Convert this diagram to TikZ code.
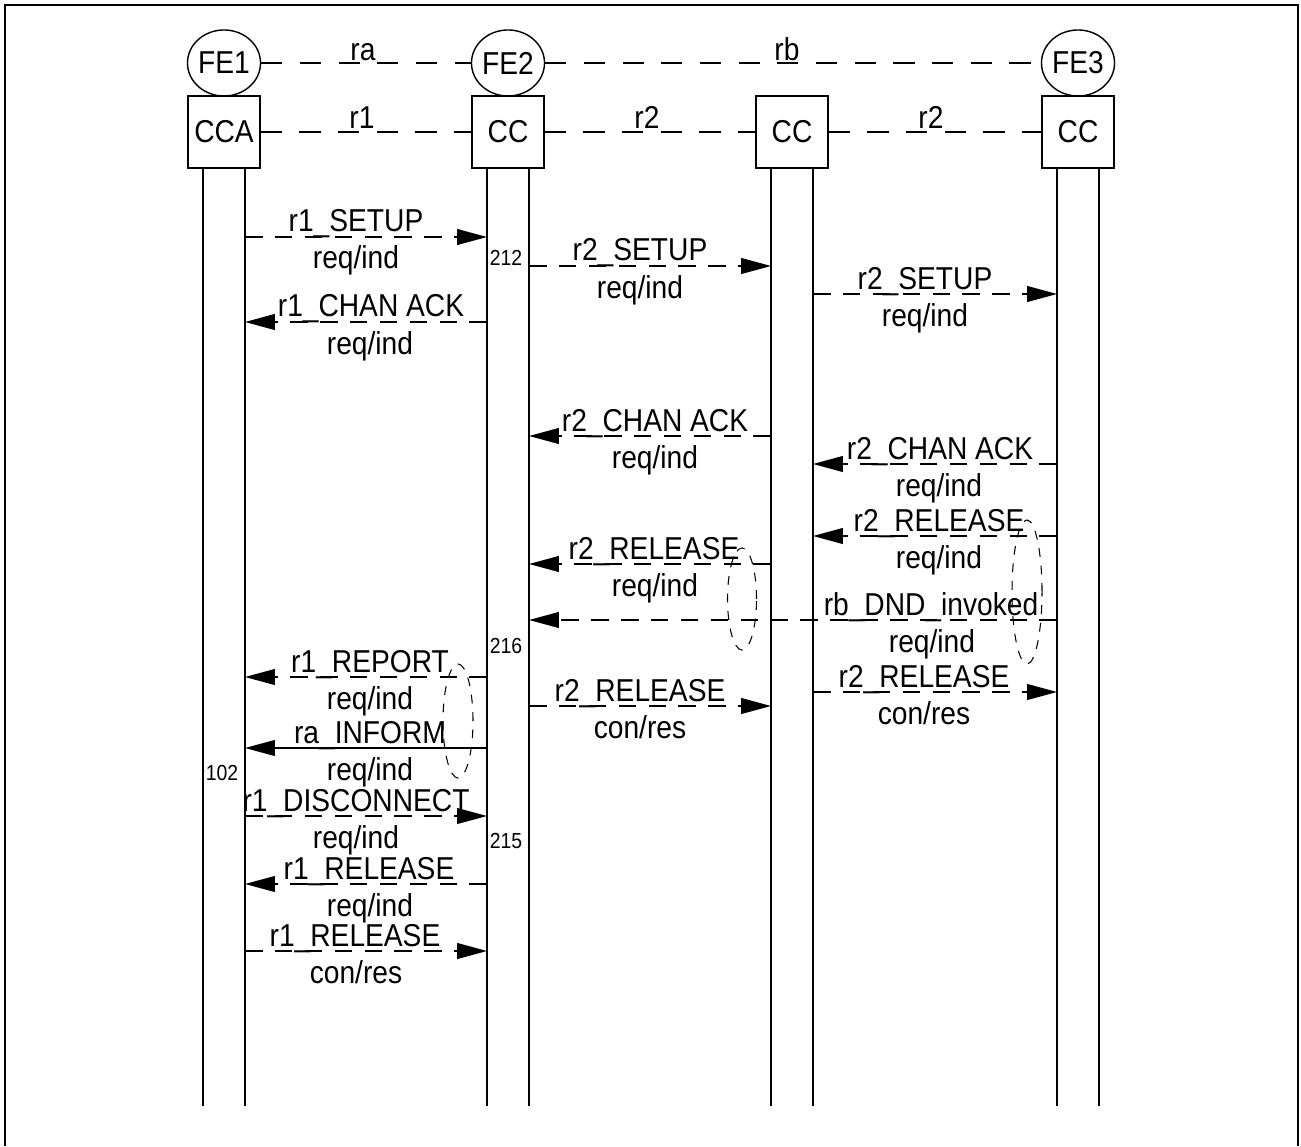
\documentclass[tikz,border=0pt]{standalone}
\usepackage{fontspec}
\setmainfont{Liberation Sans}[FakeStretch=0.89]
\usepackage{tikz}
\usetikzlibrary{arrows.meta, shapes.geometric}

\begin{document}
\begin{tikzpicture}[
  x=0.01cm, y=-0.01cm,
  font=\fontsize{9}{10.8}\selectfont,
  fe/.style={draw,ellipse,inner sep=0pt,minimum width=0.72cm,minimum height=0.66cm},
  fb/.style={draw,rectangle,inner sep=0pt,minimum size=0.72cm},
  rel/.style={dash pattern=on 6pt off 5pt},
  life/.style={line width=0.4pt},
  msg/.style={-{Triangle[length=8.5pt,width=4.5pt]},dash pattern=on 5pt off 3.5pt},
  sig/.style={-{Triangle[length=8.5pt,width=4.5pt]}},
  lbl/.style={anchor=base,inner sep=0pt},
  num/.style={anchor=base,inner sep=0pt,font=\fontsize{6.2}{7.4}\selectfont},
  grp/.style={draw,ellipse,inner sep=0pt,line width=0.3pt,dash pattern=on 2.5pt off 2.5pt}
]
\useasboundingbox (0,0) rectangle (1301,1146);
\draw[line width=0.7pt] (5,1146) -- (5,5) -- (1298,5) -- (1298,1146);

% entities
\node[fe] (fe1) at (224,63) {FE1};
\node[fe] (fe2) at (508,63) {FE2};
\node[fe] (fe3) at (1078,63) {FE3};
\node[fb] (cca) at (224,132) {CCA};
\node[fb] (cc2) at (508,132) {CC};
\node[fb] (cc3) at (792,132) {CC};
\node[fb] (cc4) at (1078,132) {CC};

% relationships
\draw[rel] (fe1) -- (fe2);
\draw[rel] (fe2) -- (fe3);
\draw[rel] (cca) -- (cc2);
\draw[rel] (cc2) -- (cc3);
\draw[rel] (cc3) -- (cc4);
\node[lbl] (ra) at (363,61) {ra};
\node[lbl] (rb) at (787,61) {rb};
\node[lbl] (r1) at (362,129) {r1};
\node[lbl] (r2a) at (647,129) {r2};
\node[lbl] (r2b) at (931,129) {r2};

% lifelines
\draw[life] ([xshift=-0.21cm]cca.south) -- ++(0,937);
\draw[life] ([xshift=0.21cm]cca.south) -- ++(0,937);
\draw[life] ([xshift=-0.21cm]cc2.south) -- ++(0,937);
\draw[life] ([xshift=0.21cm]cc2.south) -- ++(0,937);
\draw[life] ([xshift=-0.21cm]cc3.south) -- ++(0,937);
\draw[life] ([xshift=0.21cm]cc3.south) -- ++(0,937);
\draw[life] ([xshift=-0.21cm]cc4.south) -- ++(0,937);
\draw[life] ([xshift=0.21cm]cc4.south) -- ++(0,937);

% message ends
\coordinate (m1a) at (245,237);  \coordinate (m1b) at (487,237);
\coordinate (m2a) at (529,266);  \coordinate (m2b) at (771,266);
\coordinate (m3a) at (813,294);  \coordinate (m3b) at (1057,294);
\coordinate (m4a) at (487,322);  \coordinate (m4b) at (245,322);
\coordinate (m5a) at (771,436);  \coordinate (m5b) at (529,436);
\coordinate (m6a) at (1057,464); \coordinate (m6b) at (813,464);
\coordinate (m7a) at (1057,536); \coordinate (m7b) at (813,536);
\coordinate (m8a) at (771,564);  \coordinate (m8b) at (529,564);
\coordinate (m9a) at (1057,620); \coordinate (m9b) at (529,620);
\coordinate (m10a) at (487,677); \coordinate (m10b) at (245,677);
\coordinate (m11a) at (813,692); \coordinate (m11b) at (1057,692);
\coordinate (m12a) at (529,706); \coordinate (m12b) at (771,706);
\coordinate (m13a) at (487,748); \coordinate (m13b) at (245,748);
\coordinate (m14a) at (245,816); \coordinate (m14b) at (487,816);
\coordinate (m15a) at (487,884); \coordinate (m15b) at (245,884);
\coordinate (m16a) at (245,951); \coordinate (m16b) at (487,951);

% messages
\draw[msg] (m1a) -- (m1b);
\draw[msg] (m2a) -- (m2b);
\draw[msg] (m3a) -- (m3b);
\draw[msg] (m4a) -- (m4b);
\draw[msg] (m5a) -- (m5b);
\draw[msg] (m6a) -- (m6b);
\draw[msg] (m7a) -- (m7b);
\draw[msg] (m8a) -- (m8b);
\draw[msg] (m9a) -- (m9b);
\draw[msg] (m10a) -- (m10b);
\draw[msg] (m11a) -- (m11b);
\draw[msg] (m12a) -- (m12b);
\draw[sig] (m13a) -- (m13b);
\draw[msg] (m14a) -- (m14b);
\draw[msg] (m15a) -- (m15b);
\draw[msg] (m16a) -- (m16b);

% message labels
\node[lbl] (t1) at (356,232) {r1\_SETUP};        \node[lbl] (p1) at (356,269) {req/ind};
\node[lbl] (t2) at (640,261) {r2\_SETUP};        \node[lbl] (p2) at (640,298) {req/ind};
\node[lbl] (t3) at (925,289) {r2\_SETUP};        \node[lbl] (p3) at (925,326) {req/ind};
\node[lbl] (t4) at (371,317) {r1\_CHAN ACK};     \node[lbl] (p4) at (370,354) {req/ind};
\node[lbl] (t5) at (655,431) {r2\_CHAN ACK};     \node[lbl] (p5) at (655,468) {req/ind};
\node[lbl] (t6) at (940,459) {r2\_CHAN ACK};     \node[lbl] (p6) at (939,496) {req/ind};
\node[lbl] (t7) at (939,531) {r2\_RELEASE};      \node[lbl] (p7) at (939,568) {req/ind};
\node[lbl] (t8) at (654,559) {r2\_RELEASE};      \node[lbl] (p8) at (655,596) {req/ind};
\node[lbl] (t9) at (931,615) {rb\_DND\_invoked}; \node[lbl] (p9) at (932,652) {req/ind};
\node[lbl] (t10) at (370,672) {r1\_REPORT};      \node[lbl] (p10) at (370,709) {req/ind};
\node[lbl] (t11) at (924,687) {r2\_RELEASE};     \node[lbl] (p11) at (924,724) {con/res};
\node[lbl] (t12) at (640,701) {r2\_RELEASE};     \node[lbl] (p12) at (640,738) {con/res};
\node[lbl] (t13) at (370,743) {ra\_INFORM};      \node[lbl] (p13) at (370,780) {req/ind};
\node[lbl] (t14) at (356,811) {r1\_DISCONNECT};  \node[lbl] (p14) at (356,848) {req/ind};
\node[lbl] (t15) at (369,879) {r1\_RELEASE};     \node[lbl] (p15) at (370,916) {req/ind};
\node[lbl] (t16) at (355,946) {r1\_RELEASE};     \node[lbl] (p16) at (356,983) {con/res};

% reference numbers
\node[num] (n212) at (506,266) {212};
\node[num] (n216) at (506,653) {216};
\node[num] (n215) at (506,848) {215};
\node[num] (n102) at (222,780) {102};

% groupings
\node[grp,minimum width=0.29cm,minimum height=1.02cm] (g1) at (742,599) {};
\node[grp,minimum width=0.30cm,minimum height=1.44cm] (g2) at (1027,592) {};
\node[grp,minimum width=0.30cm,minimum height=1.14cm] (g3) at (458,721) {};
\end{tikzpicture}
\end{document}
